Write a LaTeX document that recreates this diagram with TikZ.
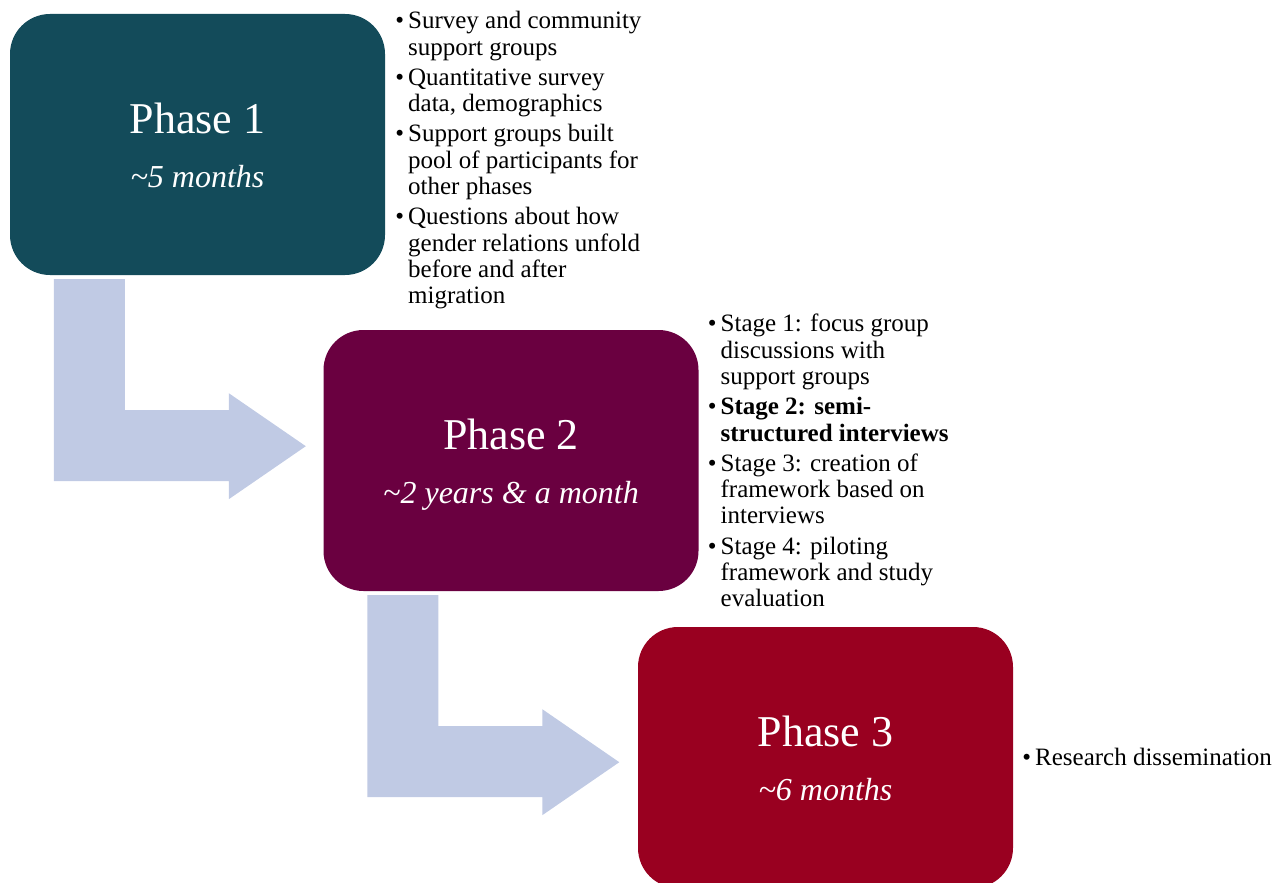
\documentclass[tikz,border=0pt]{standalone}
\usepackage{fontspec}
\setmainfont{Liberation Serif}

\definecolor{phaseone}{HTML}{134B5A}
\definecolor{phasetwo}{HTML}{6A0040}
\definecolor{phasethree}{HTML}{990020}
\definecolor{arrowblue}{HTML}{C0CAE4}

\begin{document}
\begin{tikzpicture}[x=1pt, y=-1pt,
        phase node/.style={rectangle, rounded corners=40pt, minimum width=375pt,
            minimum height=261pt, inner sep=0pt},
        title text/.style={anchor=base, text=white, inner sep=0pt, font=\fontsize{44}{50}\selectfont},
        time text/.style={anchor=base, text=white, inner sep=0pt, font=\fontsize{32}{38}\selectfont\itshape},
        note node/.style={anchor=base west, inner sep=0pt, font=\fontsize{25}{26.3}\selectfont},
        bent arrow/.style={fill=arrowblue}]
        \useasboundingbox (0,0) rectangle (1278,883);

        \node[phase node, fill=phaseone] (phase1) at (197.5,144.5) {};
        \node[phase node, fill=phasetwo] (phase2) at (511,460.5) {};
        \node[phase node, fill=phasethree] (phase3) at (825.5,757.5) {};

        \node[title text] (title1) at ([yshift=11.5pt]phase1.center) {Phase 1};
        \node[time text] (time1) at ([yshift=-42.5pt]phase1.center) {\textasciitilde5 months};
        \node[title text] (title2) at ([yshift=11.5pt]phase2.center) {Phase 2};
        \node[time text] (time2) at ([yshift=-42.5pt]phase2.center) {\textasciitilde2 years \& a month};
        \node[title text] (title3) at ([yshift=11.5pt]phase3.center) {Phase 3};
        \node[time text] (time3) at ([yshift=-42.5pt]phase3.center) {\textasciitilde6 months};

        % bent arrows, each hangs below one phase and points to the next
        \foreach \from in {phase1, phase2}
            \fill[bent arrow, shift={(\from.south west)}] (44,4) -- (115,4) -- (115,135)
                -- (219,135) -- (219,118) -- (296,171) -- (219,224) -- (219,206)
                -- (44,206) -- cycle;

        \node[note node] (notes1) at ([shift={(10,15)}]phase1.north east) {%
            \begin{tabular}[t]{@{}l@{\hspace{4pt}}l@{}}
                \textbullet & Survey and community\\
                & support groups\\[4pt]
                \textbullet & Quantitative survey\\
                & data, demographics\\[4pt]
                \textbullet & Support groups built\\
                & pool of participants for\\
                & other phases\\[4pt]
                \textbullet & Questions about how\\
                & gender relations unfold\\
                & before and after\\
                & migration
            \end{tabular}};
        \node[note node] (notes2) at ([shift={(9,2)}]phase2.north east) {%
            \begin{tabular}[t]{@{}l@{\hspace{4pt}}l@{}}
                \textbullet & Stage 1: focus group\\
                & discussions with\\
                & support groups\\[4pt]
                \textbullet & \textbf{Stage 2: semi-}\\
                & \textbf{structured interviews}\\[4pt]
                \textbullet & Stage 3: creation of\\
                & framework based on\\
                & interviews\\[4pt]
                \textbullet & Stage 4: piloting\\
                & framework and study\\
                & evaluation
            \end{tabular}};
        \node[note node] (notes3) at ([shift={(9,7.5)}]phase3.east) {%
            \begin{tabular}[t]{@{}l@{\hspace{4pt}}l@{}}
                \textbullet & Research dissemination
            \end{tabular}};
\end{tikzpicture}
\end{document}
